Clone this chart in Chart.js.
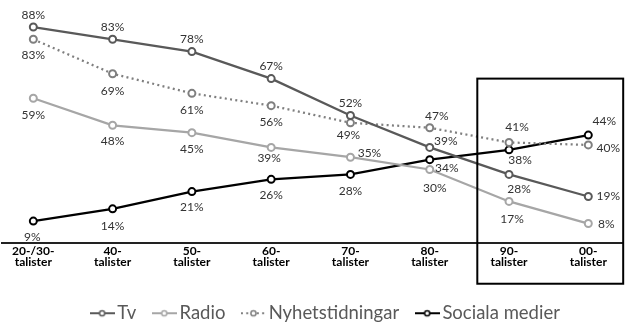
<!DOCTYPE html>
<html>
<head>
<meta charset="utf-8">
<script src="https://cdn.jsdelivr.net/npm/chart.js@4"></script>
<style>
  html, body { margin: 0; padding: 0; background: #fff; }
  #wrap { width: 625px; height: 322px; }
</style>
</head>
<body>
<div id="wrap"><canvas id="chart"></canvas></div>
<script>
    // data
    const categories = [
        ['20-/30-', 'talister'], ['40-', 'talister'], ['50-', 'talister'], ['60-', 'talister'],
        ['70-', 'talister'], ['80-', 'talister'], ['90-', 'talister'], ['00-', 'talister']
    ];
    const seriesNames = ['Tv', 'Radio', 'Nyhetstidningar', 'Sociala medier'];
    const tvValues = [88, 83, 78, 67, 52, 39, 28, 19];
    const radioValues = [59, 48, 45, 39, 35, 30, 17, 8];
    const newspaperValues = [83, 69, 61, 56, 49, 47, 41, 40];
    const socialValues = [9, 14, 21, 26, 28, 34, 38, 44];

    // where each value label sits relative to its point (dx, dy of label centre)
    const labelOffsets = [
        [[0, -12], [0, -12], [0, -12], [0, -12], [0, -12], [16, -6], [10, 15], [20, 0]],
        [[0, 17], [0, 16], [0, 16], [-2, 11], [19, -4], [5, 19], [3, 18], [18, 1]],
        [[0, 16], [0, 17], [0, 17], [0, 16], [-2, 12], [7, -12], [8, -15], [20, 3]],
        [[-1, 16], [0, 17], [0, 16], [0, 16], [0, 17], [17, 8], [11, 10], [16, -14]]
    ];

    const colors = ['#595959', '#a6a6a6', '#7f7f7f', '#000000'];
    const dashes = [[], [], [2, 3.3], []];

    function toPoints(values) {
        return values.map((v, i) => ({ x: i, y: v }));
    }

    // little line + circle sample for the legend
    function makeMarker(color, dash) {
        const c = document.createElement('canvas');
        c.width = 25;
        c.height = 10;
        const g = c.getContext('2d');
        g.strokeStyle = color;
        g.lineWidth = 2;
        g.setLineDash(dash);
        g.beginPath();
        g.moveTo(0, 5);
        g.lineTo(25, 5);
        g.stroke();
        g.setLineDash([]);
        g.fillStyle = '#fff';
        g.lineWidth = 1.5;
        g.beginPath();
        g.arc(12.5, 5, 2.6, 0, Math.PI * 2);
        g.fill();
        g.stroke();
        return c;
    }
    const markers = colors.map((c, i) => makeMarker(c, dashes[i]));

    const valueLabels = {
        id: 'valueLabels',
        afterDatasetsDraw(chart) {
            const ctx = chart.ctx;
            ctx.save();
            ctx.font = '12px Lato';
            ctx.fillStyle = '#333';
            ctx.textAlign = 'center';
            ctx.textBaseline = 'middle';
            chart.data.datasets.forEach((ds, di) => {
                chart.getDatasetMeta(di).data.forEach((pt, i) => {
                    const off = labelOffsets[di][i];
                    ctx.fillText(ds.data[i].y + '%', pt.x + off[0], pt.y + off[1]);
                });
            });
            ctx.restore();
        }
    };

    // frame round the last two generations
    const highlightBox = {
        id: 'highlightBox',
        afterLayout(chart) {
            // legend row sits a little right of centre in the original
            chart.legend.left += 16;
            chart.legend.right += 16;
        },
        afterDraw(chart) {
            const xs = chart.scales.x, ys = chart.scales.y;
            const left = xs.getPixelForValue(5.6);
            const right = xs.getPixelForValue(7.44);
            const top = ys.getPixelForValue(67);
            const bottom = ys.getPixelForValue(-16.5);
            const ctx = chart.ctx;
            ctx.save();
            ctx.strokeStyle = '#000';
            ctx.lineWidth = 2;
            ctx.strokeRect(left, top, right - left, bottom - top);
            ctx.restore();
        }
    };

    const datasets = [tvValues, radioValues, newspaperValues, socialValues].map((vals, i) => ({
        label: seriesNames[i],
        data: toPoints(vals),
        borderColor: colors[i],
        borderWidth: 2.25,
        borderDash: dashes[i],
        pointRadius: 3.5,
        pointBorderWidth: 2,
        pointBackgroundColor: '#fff',
        pointBorderColor: colors[i],
        tension: 0,
        clip: false
    }));

    new Chart(document.getElementById('chart'), {
        type: 'line',
        data: { datasets: datasets },
        options: {
            responsive: true,
            maintainAspectRatio: false,
            animation: false,
            layout: { autoPadding: false, padding: { top: 0, left: 2, right: 3, bottom: -10.5 } },
            scales: {
                x: {
                    type: 'linear',
                    min: -0.395,
                    max: 7.425,
                    afterBuildTicks(scale) {
                        scale.ticks = categories.map((c, i) => ({ value: i }));
                    },
                    afterFit(scale) {
                        scale.height += 12;
                    },
                    grid: { display: false, drawTicks: false },
                    border: { display: true, color: '#222', width: 2 },
                    ticks: {
                        autoSkip: false,
                        maxRotation: 0,
                        padding: 2,
                        color: '#000',
                        font: { family: 'Lato', size: 12, weight: 'bold', lineHeight: 0.95 },
                        callback: (v) => categories[v]
                    }
                },
                y: {
                    display: false,
                    min: 0,
                    max: 99
                }
            },
            plugins: {
                legend: {
                    position: 'bottom',
                    labels: {
                        usePointStyle: true,
                        pointStyleWidth: 12,
                        padding: 22,
                        color: '#595959',
                        font: { family: 'Lato', size: 18.5 },
                        generateLabels: (chart) => chart.data.datasets.map((ds, i) => ({
                            text: ds.label,
                            pointStyle: markers[i],
                            fontColor: '#595959',
                            datasetIndex: i,
                            hidden: false,
                            lineWidth: 0,
                            strokeStyle: 'transparent',
                            fillStyle: 'transparent'
                        }))
                    }
                },
                tooltip: { enabled: false }
            }
        },
        plugins: [valueLabels, highlightBox]
    });
</script>
</body>
</html>
